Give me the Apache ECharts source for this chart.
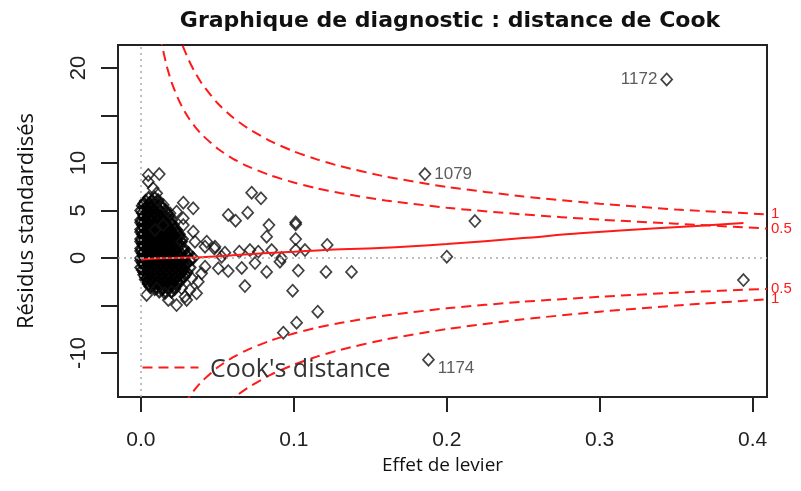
<!DOCTYPE html>
<html><head><meta charset="utf-8">
<script src="https://cdn.jsdelivr.net/npm/echarts@6/dist/echarts.min.js"></script>
<style>html,body{margin:0;padding:0;background:#fff}#c{width:801px;height:491px}</style>
</head><body><div id="c"></div><script>
// ---- Data ----
const xTickValues = [0, 0.1, 0.2, 0.3, 0.4];
const yTickValues = [-10, -5, 0, 5, 10, 15, 20];
const yLabelValues = [-10, 0, 5, 10, 20];

// dense cluster of observations [leverage, standardized residual]
const clusterPoints = [
[0.003,6.0],[0.007,6.0],[0.011,6.0],
[0.001,5.5],[0.005,5.5],[0.009,5.5],[0.013,5.5],
[0.000,5.0],[0.004,5.0],[0.008,5.0],[0.012,5.0],[0.016,5.0],
[0.002,4.5],[0.006,4.5],[0.010,4.5],[0.014,4.5],[0.018,4.5],
[0.000,4.0],[0.003,4.0],[0.007,4.0],[0.011,4.0],[0.015,4.0],[0.020,4.0],
[0.001,3.5],[0.005,3.5],[0.009,3.5],[0.013,3.5],[0.017,3.5],[0.021,3.5],
[0.000,3.0],[0.003,3.0],[0.007,3.0],[0.011,3.0],[0.015,3.0],[0.019,3.0],[0.023,3.0],
[0.001,2.5],[0.005,2.5],[0.009,2.5],[0.013,2.5],[0.017,2.5],[0.021,2.5],[0.025,2.5],
[0.000,2.0],[0.003,2.0],[0.007,2.0],[0.011,2.0],[0.015,2.0],[0.019,2.0],[0.023,2.0],[0.027,2.0],
[0.001,1.5],[0.005,1.5],[0.009,1.5],[0.013,1.5],[0.017,1.5],[0.021,1.5],[0.025,1.5],
[0.000,1.0],[0.003,1.0],[0.007,1.0],[0.011,1.0],[0.015,1.0],[0.019,1.0],[0.023,1.0],[0.028,1.0],
[0.001,0.5],[0.005,0.5],[0.009,0.5],[0.013,0.5],[0.017,0.5],[0.021,0.5],[0.026,0.5],[0.031,0.5],
[0.000,0.0],[0.003,0.0],[0.007,0.0],[0.011,0.0],[0.015,0.0],[0.019,0.0],[0.023,0.0],[0.028,0.0],[0.034,0.0],
[0.001,-0.5],[0.005,-0.5],[0.009,-0.5],[0.013,-0.5],[0.017,-0.5],[0.021,-0.5],[0.025,-0.5],[0.030,-0.5],
[0.000,-1.0],[0.003,-1.0],[0.007,-1.0],[0.011,-1.0],[0.015,-1.0],[0.019,-1.0],[0.023,-1.0],[0.027,-1.0],[0.032,-1.0],
[0.002,-1.5],[0.006,-1.5],[0.010,-1.5],[0.014,-1.5],[0.018,-1.5],[0.022,-1.5],[0.026,-1.5],[0.030,-1.5],
[0.003,-2.0],[0.007,-2.0],[0.011,-2.0],[0.015,-2.0],[0.019,-2.0],[0.023,-2.0],[0.028,-2.0],
[0.004,-2.5],[0.008,-2.5],[0.012,-2.5],[0.016,-2.5],[0.020,-2.5],[0.024,-2.5],
[0.006,-3.0],[0.010,-3.0],[0.014,-3.0],[0.018,-3.0],[0.022,-3.0],
[0.012,-3.5],[0.016,-3.5],[0.020,-3.5]
];
const clusterPoints2 = [
[0.005,6.3],[0.009,6.3],
[0.002,5.75],[0.006,5.75],[0.010,5.75],
[0.003,5.25],[0.007,5.25],[0.011,5.25],[0.014,5.25],
[0.001,4.75],[0.005,4.75],[0.009,4.75],[0.013,4.75],[0.017,4.75],
[0.002,4.25],[0.005,4.25],[0.009,4.25],[0.013,4.25],[0.017,4.25],
[0.000,3.75],[0.003,3.75],[0.007,3.75],[0.011,3.75],[0.015,3.75],[0.019,3.75],
[0.002,3.25],[0.005,3.25],[0.009,3.25],[0.013,3.25],[0.017,3.25],[0.021,3.25],
[0.000,2.75],[0.003,2.75],[0.007,2.75],[0.011,2.75],[0.015,2.75],[0.019,2.75],[0.023,2.75],
[0.002,2.25],[0.005,2.25],[0.009,2.25],[0.013,2.25],[0.017,2.25],[0.021,2.25],[0.025,2.25],
[0.000,1.75],[0.003,1.75],[0.007,1.75],[0.011,1.75],[0.015,1.75],[0.019,1.75],[0.023,1.75],[0.026,1.75],
[0.002,1.25],[0.005,1.25],[0.009,1.25],[0.013,1.25],[0.017,1.25],[0.021,1.25],[0.025,1.25],
[0.000,0.75],[0.003,0.75],[0.007,0.75],[0.011,0.75],[0.015,0.75],[0.019,0.75],[0.023,0.75],[0.028,0.75],
[0.002,0.25],[0.005,0.25],[0.009,0.25],[0.013,0.25],[0.017,0.25],[0.021,0.25],[0.025,0.25],[0.030,0.25],
[0.000,-0.25],[0.003,-0.25],[0.007,-0.25],[0.011,-0.25],[0.015,-0.25],[0.019,-0.25],[0.023,-0.25],[0.027,-0.25],[0.032,-0.25],
[0.002,-0.75],[0.005,-0.75],[0.009,-0.75],[0.013,-0.75],[0.017,-0.75],[0.021,-0.75],[0.025,-0.75],[0.029,-0.75],
[0.001,-1.25],[0.004,-1.25],[0.008,-1.25],[0.012,-1.25],[0.016,-1.25],[0.020,-1.25],[0.024,-1.25],[0.028,-1.25],
[0.002,-1.75],[0.005,-1.75],[0.009,-1.75],[0.013,-1.75],[0.017,-1.75],[0.021,-1.75],[0.025,-1.75],[0.029,-1.75],
[0.003,-2.25],[0.006,-2.25],[0.010,-2.25],[0.014,-2.25],[0.018,-2.25],[0.022,-2.25],[0.026,-2.25],
[0.005,-2.75],[0.008,-2.75],[0.012,-2.75],[0.016,-2.75],[0.020,-2.75],[0.024,-2.75],
[0.009,-3.25],[0.014,-3.25],[0.018,-3.25],[0.022,-3.25]
];

const scatterPoints = [
[0.0048,8.74],[0.012,8.84],[0.0048,8.03],[0.008,7.33],[0.0103,6.81],[0.0113,6.1],
[0.0146,5.58],[0.0277,5.82],[0.0342,5.23],[0.0233,4.87],[0.0277,4.18],[0.0277,3.47],
[0.0342,2.77],[0.019,4.7],[0.0146,3.47],[0.0092,2.95],
[0.0266,1.72],[0.0353,1.72],[0.0419,1.19],[0.048,1.0],[0.0528,0.14],
[0.0332,-2.14],[0.0375,-2.49],[0.032,-3.37],[0.0364,-3.72],[0.0288,-4.07],[0.0233,-4.95],
[0.0179,-4.42],[0.0103,-3.19],[0.0037,-3.89],[0.0157,-3.72],[0.02,-3.54],[0.0266,-3.19],
[0.0299,-4.42],[0.0397,-1.61],[0.0419,-0.91],
[0.0724,6.87],[0.0785,6.28],[0.0571,4.53],[0.0619,3.93],[0.0698,4.77],[0.0837,3.47],
[0.0822,2.24],[0.1012,3.75],[0.1012,3.55],[0.1012,2.0],[0.1218,1.37],[0.1012,0.84],
[0.1073,0.84],[0.043,1.72],[0.0484,1.19],[0.0549,0.56],[0.0643,0.66],[0.0713,0.84],
[0.0767,0.66],[0.0855,0.84],[0.092,0.0],[0.0506,-1.08],[0.0571,-1.37],[0.0659,-1.05],
[0.0746,-0.53],[0.0822,-1.47],[0.0909,-0.39],[0.1029,-1.32],[0.121,-1.47],[0.1377,-1.47],
[0.068,-2.95],[0.0992,-3.44],[0.1156,-5.65],[0.1018,-6.81],[0.0931,-7.86],
[0.2,0.14],[0.2184,3.89],[0.394,-2.32]
];

// labelled observations
const labelNames = ['1172', '1079', '1174'];
const labelLev = [0.3438, 0.1857, 0.188];
const labelRes = [18.8, 8.84, -10.7];
const labelSide = ['left', 'right', 'right'];

// Cook's distance contours
const cookLev =    [0.011, 0.0137, 0.017, 0.02, 0.024, 0.027, 0.031, 0.035, 0.04, 0.05, 0.06, 0.07, 0.085, 0.1, 0.115, 0.13, 0.16, 0.2, 0.25, 0.3, 0.35, 0.4094];
const cookUp1 =    [35.5, 31.75, 28.45, 26.19, 23.86, 22.46, 20.92, 19.65, 18.33, 16.31, 14.81, 13.64, 12.28, 11.22, 10.38, 9.68, 8.57, 7.48, 6.48, 5.72, 5.10, 4.6];
const cookUp05 =   [25.09, 22.45, 20.12, 18.52, 16.87, 15.88, 14.79, 13.89, 12.96, 11.53, 10.47, 9.64, 8.68, 7.94, 7.34, 6.84, 6.06, 5.29, 4.58, 4.04, 3.61, 3.1];
const cookLow05 =  [-25.09, -22.45, -20.12, -18.52, -16.87, -15.88, -14.79, -13.89, -12.96, -11.53, -10.47, -9.64, -8.68, -7.94, -7.34, -6.84, -6.06, -5.29, -4.6, -4.08, -3.65, -3.25];
const cookLow1 =   [-35.5, -31.75, -28.45, -26.19, -23.86, -22.46, -20.92, -19.65, -18.33, -16.31, -14.81, -13.64, -12.28, -11.22, -10.38, -9.68, -8.57, -7.48, -6.45, -5.65, -5.0, -4.35];

// smoother (red solid line)
const smoothLev = [0.0, 0.005, 0.01, 0.02, 0.03, 0.04, 0.06, 0.08, 0.1, 0.12, 0.156, 0.2, 0.25, 0.287, 0.34, 0.394];
const smoothRes = [-0.15, -0.1, -0.05, 0.0, 0.05, 0.08, 0.3, 0.5, 0.66, 0.85, 1.05, 1.47, 2.1, 2.6, 3.15, 3.68];

// ---- Chart ----
const chart = echarts.init(document.getElementById('c'), null, {renderer: 'canvas'});
const zip = (a, b) => a.map((v, i) => [v, b[i]]);
const RED = '#ff1a1a';
const dashed = {color: RED, width: 2, type: [10, 6]};
const diamond = {color: 'rgba(0,0,0,0)', borderColor: '#111', borderWidth: 1.7};
const diamondDense = {color: 'rgba(0,0,0,0)', borderColor: '#000', borderWidth: 2.2};
const cookSeries = (vals, lab) => ({
  type: 'line', data: zip(cookLev, vals), showSymbol: false, symbol: 'none',
  smooth: 0.2, lineStyle: dashed, clip: true, silent: true, z: 3,
  endLabel: {show: true, formatter: lab, color: RED, fontSize: 15, distance: 4,
    fontFamily: 'Liberation Sans'}
});
const scatterBase = {type: 'scatter', symbol: 'diamond', symbolSize: [11, 12],
  itemStyle: diamond, z: 2, silent: true};

chart.setOption({
  animation: false,
  backgroundColor: '#fff',
  title: {
    text: 'Graphique de diagnostic : distance de Cook',
    left: 445, top: 5, textAlign: 'center',
    textStyle: {fontFamily: 'DejaVu Sans', fontWeight: 'bold', fontSize: 22, color: '#111'}
  },
  grid: {left: 118, right: 34, top: 45, bottom: 94, show: true,
    borderColor: '#222', borderWidth: 2, backgroundColor: 'transparent'},
  graphic: [
    {type: 'line', left: 140, top: 365, z: 10,
      shape: {x1: 0, y1: 0, x2: 56, y2: 0},
      style: {stroke: RED, lineWidth: 2, lineDash: [10, 6]}},
    {type: 'text', left: 210, top: 357, z: 10,
      style: {text: "Cook's distance", font: '25px "Open Sans"', fill: '#333'}}
  ],
  xAxis: {
    type: 'value', min: -0.015, max: 0.4094,
    name: 'Effet de levier', nameLocation: 'middle', nameGap: 58,
    nameTextStyle: {fontFamily: 'Open Sans', fontSize: 19, color: '#111'},
    axisLine: {show: false, onZero: false},
    axisTick: {show: true, customValues: xTickValues, length: 15, inside: false,
      lineStyle: {color: '#222', width: 2}},
    axisLabel: {customValues: xTickValues, margin: 33, fontFamily: 'Liberation Sans', fontSize: 21, color: '#222',
      formatter: v => v.toFixed(1)},
    splitLine: {show: false}
  },
  yAxis: {
    type: 'value', min: -14.63, max: 22.42,
    name: 'Résidus standardisés', nameLocation: 'middle', nameGap: 80, nameRotate: 90,
    nameTextStyle: {fontFamily: 'Open Sans', fontSize: 22, color: '#111'},
    axisLine: {show: false, onZero: false},
    axisTick: {show: true, customValues: yTickValues, length: 17,
      lineStyle: {color: '#222', width: 2}},
    axisLabel: {customValues: yLabelValues, rotate: 90, margin: 28, fontFamily: 'Liberation Sans', fontSize: 22, color: '#222'},
    splitLine: {show: false}
  },
  series: [
    {type: 'line', data: [], silent: true,
      markLine: {silent: true, symbol: 'none', label: {show: false}, animation: false,
        lineStyle: {color: '#aaa', type: [2, 4], width: 1.5},
        data: [{yAxis: 0}, {xAxis: 0}]}},
    Object.assign({}, scatterBase, {data: clusterPoints, itemStyle: diamondDense}),
    Object.assign({}, scatterBase, {data: clusterPoints2, itemStyle: diamondDense}),
    Object.assign({data: scatterPoints}, scatterBase),
    Object.assign({}, scatterBase, {
      data: labelNames.map((n, i) => ({value: [labelLev[i], labelRes[i]], name: n,
        label: {show: true, position: labelSide[i], formatter: n, distance: 3,
          offset: i === 2 ? [0, 9] : [0, 0],
          fontFamily: 'Liberation Sans', fontSize: 17, color: '#333'}}))}),
    {type: 'line', data: zip(smoothLev, smoothRes), symbol: 'none', smooth: 0.3,
      lineStyle: {color: RED, width: 2}, z: 3, silent: true},
    cookSeries(cookUp1, '1'),
    cookSeries(cookUp05, '0.5'),
    cookSeries(cookLow05, '0.5'),
    cookSeries(cookLow1, '1')
  ]
});
</script></body></html>
